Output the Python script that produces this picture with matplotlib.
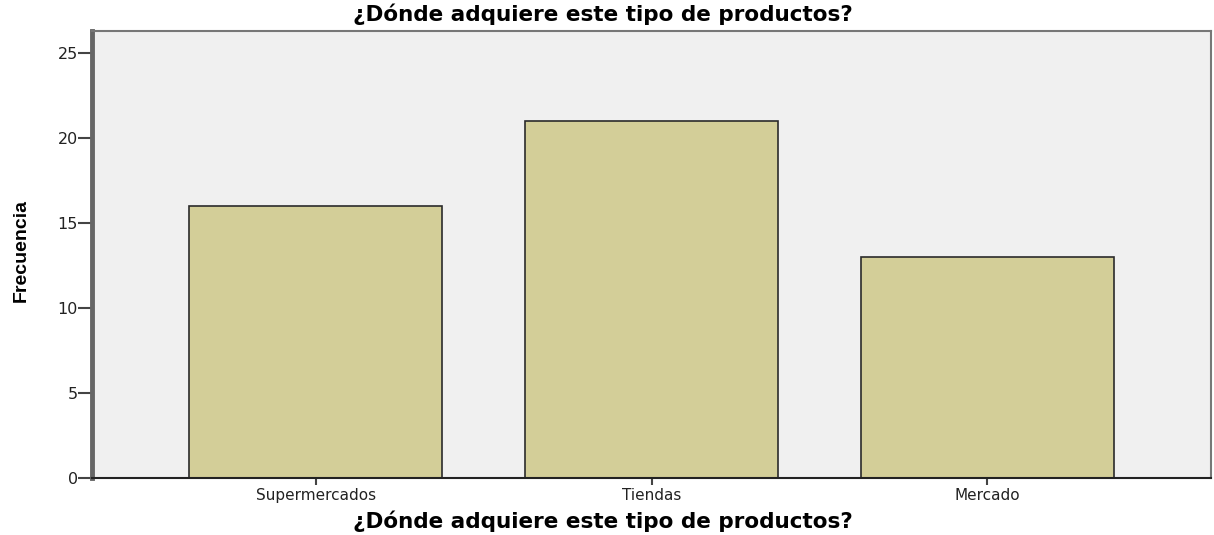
import matplotlib
matplotlib.use("Agg")
import matplotlib.pyplot as plt

# frequency of where the products are bought
categories = ["Supermercados", "Tiendas", "Mercado"]
counts = [16, 21, 13]
y_ticks = [0, 5, 10, 15, 20, 25]

title = "¿Dónde adquiere este tipo de productos?"

plt.rcParams["font.family"] = ["DejaVu Sans"]

fig = plt.figure(figsize=(12.14, 5.35), dpi=100)
ax = fig.add_axes([92 / 1214, 1 - 478 / 535, (1211 - 92) / 1214, (478 - 31) / 535])
ax.set_facecolor("#f0f0f0")

x = list(range(len(categories)))
ax.bar(x, counts, width=0.754, color="#d3ce98", edgecolor="#2b2b2b", linewidth=1.2, zorder=2)

ax.set_xlim(-0.667, 2.667)
ax.set_ylim(0, 26.3)
ax.set_yticks(y_ticks)
ax.set_xticks(x)
ax.set_xticklabels(categories, fontsize=11, color="#222222")
ax.tick_params(axis="y", labelsize=11.5, labelcolor="#222222", length=10, width=1.5,
               color="#444444", pad=0)
ax.tick_params(axis="x", length=5, width=1.5, color="#444444", pad=2.5)

ax.spines["left"].set_color("#666666")
ax.spines["left"].set_linewidth(3.5)
ax.spines["bottom"].set_color("#222222")
ax.spines["bottom"].set_linewidth(1.5)
for side in ("top", "right"):
    ax.spines[side].set_color("#777777")
    ax.spines[side].set_linewidth(1.5)

fig.text(603 / 1214, 1 - 14 / 535, title, ha="center", va="center",
         fontsize=15.5, fontweight="bold")
fig.text(603 / 1214, 1 - 521 / 535, title, ha="center", va="center",
         fontsize=15.5, fontweight="bold")
fig.text(21 / 1214, 1 - 250 / 535, "Frecuencia", ha="center", va="center",
         rotation=90, fontsize=14, fontweight="bold", fontstretch="condensed",
         family=["DejaVu Sans Condensed", "Liberation Sans Narrow", "Liberation Sans"])

fig.savefig("out.png", dpi=100)
